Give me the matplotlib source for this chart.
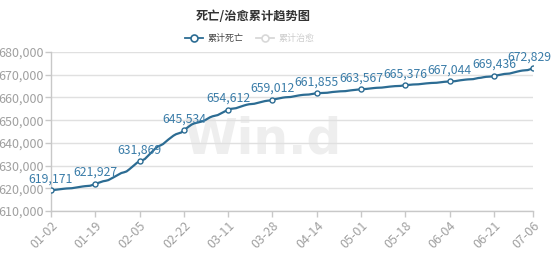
import numpy as np
import pandas as pd
import matplotlib
matplotlib.use('Agg')
import matplotlib.pyplot as plt
from matplotlib.lines import Line2D
from matplotlib.ticker import FuncFormatter

plt.rcParams['font.family'] = ['Noto Sans CJK SC', 'DejaVu Sans']

# 累计死亡, 2022-01-02 ~ 2022-07-06, one value per day
deaths = [
    619171, 619231, 619381, 619511, 619661, 619801, 619911, 619961, 620031, 620221,
    620391, 620571, 620771, 620921, 621001, 621121, 621471, 621927, 622327, 622747,
    623097, 623297, 623597, 624197, 624817, 625467, 626147, 626727, 627027, 627427,
    628307, 629257, 630237, 631237, 631869, 632319, 632869, 634019, 635219, 636369,
    637469, 638369, 638869, 639469, 640469, 641419, 642319, 643169, 643819, 644169,
    644569, 645534, 646434, 647284, 648084, 648584, 648884, 649184, 649434, 649884,
    650584, 651234, 651684, 651934, 652234, 652834, 653484, 654034, 654612, 654962,
    655112, 655262, 655662, 656062, 656412, 656742, 656992, 657092, 657212, 657512,
    657832, 658112, 658362, 658542, 658662, 659012, 659242, 659492, 659712, 659912,
    660062, 660122, 660202, 660422, 660652, 660852, 661032, 661162, 661212, 661282,
    661482, 661672, 661855, 661915, 661965, 661995, 662055, 662215, 662385, 662465,
    662585, 662685, 662725, 662775, 662945, 663105, 663235, 663355, 663485, 663567,
    663617, 663747, 663887, 664017, 664137, 664237, 664277, 664337, 664487, 664627,
    664757, 664877, 664967, 665007, 665067, 665227, 665376, 665496, 665606, 665696,
    665736, 665786, 665926, 666056, 666176, 666286, 666366, 666406, 666456, 666606,
    666746, 666876, 666966, 667044, 667084, 667144, 667344, 667534, 667684, 667824,
    667934, 667984, 668054, 668304, 668544, 668664, 668894, 669064, 669124, 669204,
    669436, 669686, 669926, 670156, 670336, 670416, 670516, 670816, 671106, 671386,
    671646, 671846, 671936, 672046, 672426, 672829,
]
dates = pd.date_range('2022-01-02', '2022-07-06', freq='D').strftime('%m-%d').tolist()

# days that get a tick, a marker and a value label
label_dates = ['01-02', '01-19', '02-05', '02-22', '03-11', '03-28', '04-14',
               '05-01', '05-18', '06-04', '06-21', '07-06']
y_ticks = [610000, 620000, 630000, 640000, 650000, 660000, 670000, 680000]

line_color = '#2c6c93'
label_color = '#3a7ca8'
gray_text = '#a0a0a0'
axis_gray = '#c8c8c8'

fig = plt.figure(figsize=(5.54, 2.54), dpi=100)
ax = fig.add_axes([51 / 554, 1 - 211 / 254, (533 - 51) / 554, (211 - 52) / 254])

x = np.arange(len(deaths))
idx = [dates.index(d) for d in label_dates]

# watermark
ax.text(0.44, 0.45, 'Win.d', transform=ax.transAxes, ha='center', va='center',
        fontsize=35, fontweight='bold', color='#eeeeee', family='DejaVu Sans', zorder=0)

ax.plot(x, deaths, color=line_color, lw=1.6, zorder=3, solid_capstyle='round')
ax.plot(x[idx], [deaths[i] for i in idx], ls='none', marker='o', ms=3.6,
        mfc='white', mec=line_color, mew=1.0, zorder=4)
for k, i in enumerate(idx):
    dx = -2.5 if k == len(idx) - 1 else 0  # last one pulled in so it stays inside
    ax.annotate(f'{deaths[i]:,}', (x[i], deaths[i]), xytext=(dx, 3.5),
                textcoords='offset points', ha='center', va='bottom',
                fontsize=8.8, color=label_color, zorder=5, annotation_clip=False)

ax.set_xlim(0, len(deaths) - 1)
ax.set_ylim(610000, 680000)
ax.set_yticks(y_ticks)
ax.yaxis.set_major_formatter(FuncFormatter(lambda v, p: f'{int(v):,}'))
ax.set_xticks(x[idx])
ax.set_xticklabels(label_dates, rotation=45, ha='right', rotation_mode='anchor')

ax.grid(axis='y', color='#e0e0e0', lw=1)
ax.set_axisbelow(True)
for s in ['top', 'right']:
    ax.spines[s].set_visible(False)
for s in ['left', 'bottom']:
    ax.spines[s].set_color(axis_gray)
    ax.spines[s].set_linewidth(1)
ax.tick_params(axis='y', colors=axis_gray, labelcolor=gray_text, labelsize=9,
               length=4, width=1, pad=1)
ax.tick_params(axis='x', colors=axis_gray, labelcolor=gray_text, labelsize=9,
               length=4, width=1, pad=2)

fig.text(253 / 554, 1 - 17 / 254, '死亡/治愈累计趋势图', ha='center', va='center',
         fontsize=8.8, fontweight='bold', color='#333333')

handles = [
    Line2D([], [], color=line_color, lw=1.3, marker='o', ms=5, mfc='white', mec=line_color, mew=1.2),
    Line2D([], [], color='#d8d8d8', lw=1.3, marker='o', ms=5, mfc='white', mec='#d8d8d8', mew=1.2),
]
leg = fig.legend(handles, ['累计死亡', '累计治愈'], loc='center', bbox_to_anchor=(250 / 554, 1 - 39 / 254),
                 ncol=2, frameon=False, fontsize=6.5, handlelength=2.0, handletextpad=0.5,
                 columnspacing=1.4)
leg.get_texts()[0].set_color('#444444')
leg.get_texts()[1].set_color('#cccccc')

fig.savefig('out.png', dpi=100)
